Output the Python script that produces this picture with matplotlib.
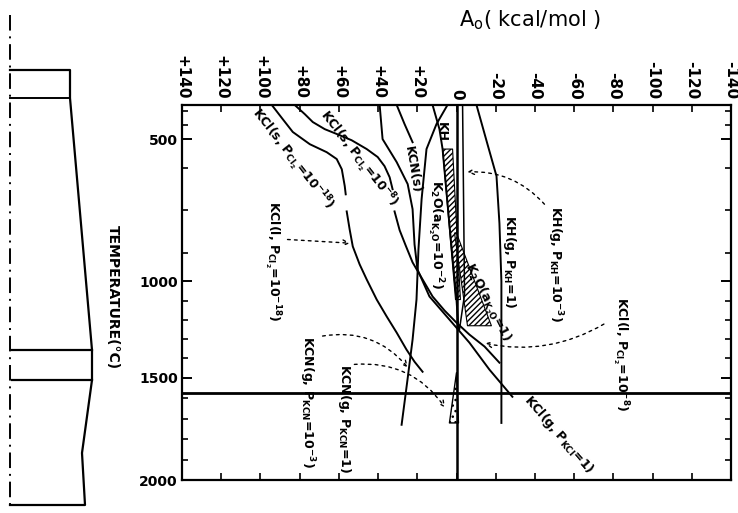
import numpy as np
import matplotlib
matplotlib.use("Agg")
import matplotlib.pyplot as plt

plt.rcParams['font.family'] = ['DejaVu Sans']
plt.rcParams['mathtext.default'] = 'regular'

# ---------------- data (A0 in kcal/mol, temperature in deg C) ----------------
A_ticks = [140, 120, 100, 80, 60, 40, 20, 0, -20, -40, -60, -80, -100, -120, -140]
A_tick_labels = ["+140", "+120", "+100", "+80", "+60", "+40", "+20", "0",
                 "-20", "-40", "-60", "-80", "-100", "-120", "-140"]
T_major = [500, 1000, 1500, 2000]
T_major_labels = ["500", "1000", "1500", "2000"]
T_minor = [400, 450, 600, 750, 900, 1100, 1200, 1300, 1400, 1600, 1700, 1800, 1900]

kcl_s18_A = [94.2, 88.6, 83.5, 74.8, 66.2, 61.1, 58.5, 57.0, 56.5]
kcl_s18_T = [380, 430, 475, 518, 546, 570, 606, 665, 694]

kcl_l18_A = [56.0, 54.5, 52.9, 49.4, 45.8, 40.7, 35.6, 30.5, 25.5, 21.4, 17.3]
kcl_l18_T = [754, 817, 877, 940, 993, 1094, 1182, 1266, 1354, 1417, 1469]

kcl_s8_A = [82.5, 77.4, 73.3, 67.2, 61.1, 53.5, 45.8, 40.2, 36.7, 34.1, 32.6]
kcl_s8_T = [380, 412, 440, 465, 482, 504, 535, 563, 595, 634, 676]

kcl_l8_A = [31.6, 29.0, 25.9, 22.4, 17.3, 12.2, 6.1, 0.0, -6.6, -14.3, -21.9]
kcl_l8_T = [754, 820, 874, 933, 993, 1078, 1151, 1214, 1276, 1338, 1422]

kcl_g_A = [39.2, 37.7, 30.5, 24.9, 22.4, 21.4, 19.9, 13.8, 3.6, -6.6, -16.8, -28.5]
kcl_g_T = [380, 500, 581, 658, 746, 870, 958, 1078, 1198, 1318, 1458, 1593]

kcn_s_A = [30.5, 26.5, 22.4]
kcn_s_T = [380, 447, 511]

kcn_g3_A = [4.6, 10.2, 15.3, 17.8, 19.4, 20.4, 22.4, 25.0, 28.0]
kcn_g3_T = [380, 447, 535, 711, 887, 1094, 1302, 1510, 1730]

k2o_2_A = [12.2, 8.7, 7.1, 3.6, 0.0, -1.0]
k2o_2_T = [380, 465, 535, 800, 1094, 1250]

kh_g3_A = [-3.1, -3.6, -4.1, -1.5]
kh_g3_T = [380, 711, 1068, 1250]

kh_g1_A = [-10.2, -15.8, -20.4, -21.9, -22.9, -22.9, -22.9]
kh_g1_T = [380, 518, 630, 796, 1000, 1354, 1721]

zero_A = [0, 0]
zero_T = [380, 2000]

hline_T = 1575

hatch1_T = [535, 1094]
hatch1_left = [7.1, 0.5]
hatch1_right = [2.0, -2.0]

hatch2_T = [830, 1230]
hatch2_left = [1.0, -5.6]
hatch2_right = [0.0, -17.8]

wedge_T = [1474, 1721]
wedge_left = [0.0, 3.6]
wedge_right = [0.0, -1.0]

# schematic furnace profile (left panel, own units)
prof_x = [10, 70, 70, 92, 92, 82, 85, 10]
prof_y = [70, 70, 98, 350, 380, 453, 505, 505]

# ---------------- figure ----------------
W, H = 738, 513
fig = plt.figure(figsize=(W / 100, H / 100), dpi=100)

# left schematic
axs = fig.add_axes([0, 0, 1, 1])
axs.set_xlim(0, W)
axs.set_ylim(H, 0)
axs.axis('off')
axs.plot(prof_x, prof_y, color='black', lw=1.6)
axs.plot([10, 70], [98, 98], color='black', lw=1.4)
axs.plot([12, 92], [350, 350], color='black', lw=1.6)
axs.plot([12, 92], [380, 380], color='black', lw=1.6)
axs.plot([10, 10], [15, 510], color='black', lw=1.4, ls=(0, (8, 3, 1, 3)))

# main axes with nonuniform temperature scale
T_knots = [380, 500, 1000, 1500, 2000]
P_knots = [0, 34, 176, 272, 374]


def fwd(t):
    return np.interp(t, T_knots, P_knots)


def inv(p):
    return np.interp(p, P_knots, T_knots)


ax = fig.add_axes([182 / W, 1 - 480 / H, 549 / W, 375 / H])
ax.set_yscale('function', functions=(fwd, inv))
ax.set_xlim(140, -140)
ax.set_ylim(2000, 380)

lw = 1.4
ax.plot(kcl_s18_A, kcl_s18_T, color='black', lw=lw)
ax.plot(kcl_l18_A, kcl_l18_T, color='black', lw=lw)
ax.plot(kcl_s8_A, kcl_s8_T, color='black', lw=lw)
ax.plot(kcl_l8_A, kcl_l8_T, color='black', lw=lw)
ax.plot(kcl_g_A, kcl_g_T, color='black', lw=lw)
ax.plot(kcn_s_A, kcn_s_T, color='black', lw=lw)
ax.plot(kcn_g3_A, kcn_g3_T, color='black', lw=lw)
ax.plot(k2o_2_A, k2o_2_T, color='black', lw=lw)
ax.plot(kh_g3_A, kh_g3_T, color='black', lw=1.1)
ax.plot(kh_g1_A, kh_g1_T, color='black', lw=lw)
ax.plot(zero_A, zero_T, color='black', lw=1.8)
ax.axhline(hline_T, color='black', lw=2.0)

ax.fill_betweenx(hatch1_T, hatch1_left, hatch1_right, facecolor='white',
                 edgecolor='black', hatch='//////', lw=0.8)
ax.fill_betweenx(hatch2_T, hatch2_left, hatch2_right, facecolor='white',
                 edgecolor='black', hatch='//////', lw=0.8)
ax.fill_betweenx(wedge_T, wedge_left, wedge_right, facecolor='white',
                 edgecolor='black', hatch='...', lw=1.0)

# ticks
ax.xaxis.set_ticks_position('both')
ax.tick_params(axis='x', which='both', direction='in', length=5, width=1.2,
               labeltop=True, labelbottom=False, pad=4)
ax.set_xticks(A_ticks)
ax.set_xticklabels(A_tick_labels, rotation=-90, fontsize=11, fontweight='bold',
                   va='bottom', ha='center')
ax.set_yticks(T_major)
ax.set_yticklabels(T_major_labels, fontsize=10, fontweight='bold')
ax.set_yticks(T_minor, minor=True)
ax.yaxis.set_ticks_position('both')
ax.tick_params(axis='y', which='major', direction='in', length=7, width=1.4, pad=3)
ax.tick_params(axis='y', which='minor', direction='in', length=4, width=1.2)
for s in ax.spines.values():
    s.set_linewidth(1.6)

fig.text(530 / W, 1 - 20 / H, r"A$_{o}$( kcal/mol )", fontsize=15,
         ha='center', va='center')
fig.text(113 / W, 1 - 297 / H, "TEMPERATURE(°C)", rotation=-90, fontsize=10,
         fontweight='bold', ha='center', va='center')

# curve labels
tk = dict(fontsize=9, fontweight='bold', ha='center', va='center')
ax.text(84.0, 570, r"KCl(s, P$_{Cl_2}$=10$^{-18}$)", rotation=-52, **tk)
ax.text(50.4, 570, r"KCl(s, P$_{Cl_2}$=10$^{-8}$)", rotation=-52, **tk)
ax.text(22.4, 606, "KCN(s)", rotation=-80, **tk)
ax.text(7.6, 475, "KH", rotation=-90, **tk)
ax.text(10.7, 834, r"K$_2$O(a$_{K_2O}$=10$^{-2}$)", rotation=-90, **tk)
ax.text(-27.0, 930, r"KH(g, P$_{KH}$=1)", rotation=-90, **tk)
ax.text(-49.9, 940, r"KH(g, P$_{KH}$=10$^{-3}$)", rotation=-90, **tk)
ax.text(-15.8, 1110, r"K$_2$O(a$_{K_2O}$=1)", rotation=-63, **tk)
ax.text(-83.5, 1380, r"KCl(l, P$_{Cl_2}$=10$^{-8}$)", rotation=-90, **tk)
ax.text(94.2, 930, r"KCl(l, P$_{Cl_2}$=10$^{-18}$)", rotation=-90, **tk)
ax.text(76.4, 1620, r"KCN(g, P$_{KCN}$=10$^{-3}$)", rotation=-90, **tk)
ax.text(57.0, 1700, r"KCN(g, P$_{KCN}$=1)", rotation=-90, **tk)
ax.text(-52.4, 1780, r"KCl(g, P$_{KCl}$=1)", rotation=-49, **tk)

ap = dict(arrowstyle='->', color='black', lw=1.0, ls=(0, (2, 3)))
ax.annotate("", xy=(52.9, 866), xytext=(87.6, 852),
            arrowprops=dict(connectionstyle="arc3,rad=0.0", **ap))
ax.annotate("", xy=(-4.1, 616), xytext=(-45.8, 736),
            arrowprops=dict(connectionstyle="arc3,rad=0.25", **ap))
ax.annotate("", xy=(-13.2, 1318), xytext=(-76.4, 1214),
            arrowprops=dict(connectionstyle="arc3,rad=-0.2", **ap))
ax.annotate("", xy=(23.9, 1458), xytext=(69.7, 1286),
            arrowprops=dict(connectionstyle="arc3,rad=-0.3", **ap))
ax.annotate("", xy=(5.1, 1657), xytext=(53.5, 1432),
            arrowprops=dict(connectionstyle="arc3,rad=-0.3", **ap))

fig.savefig("out.png", dpi=100)
